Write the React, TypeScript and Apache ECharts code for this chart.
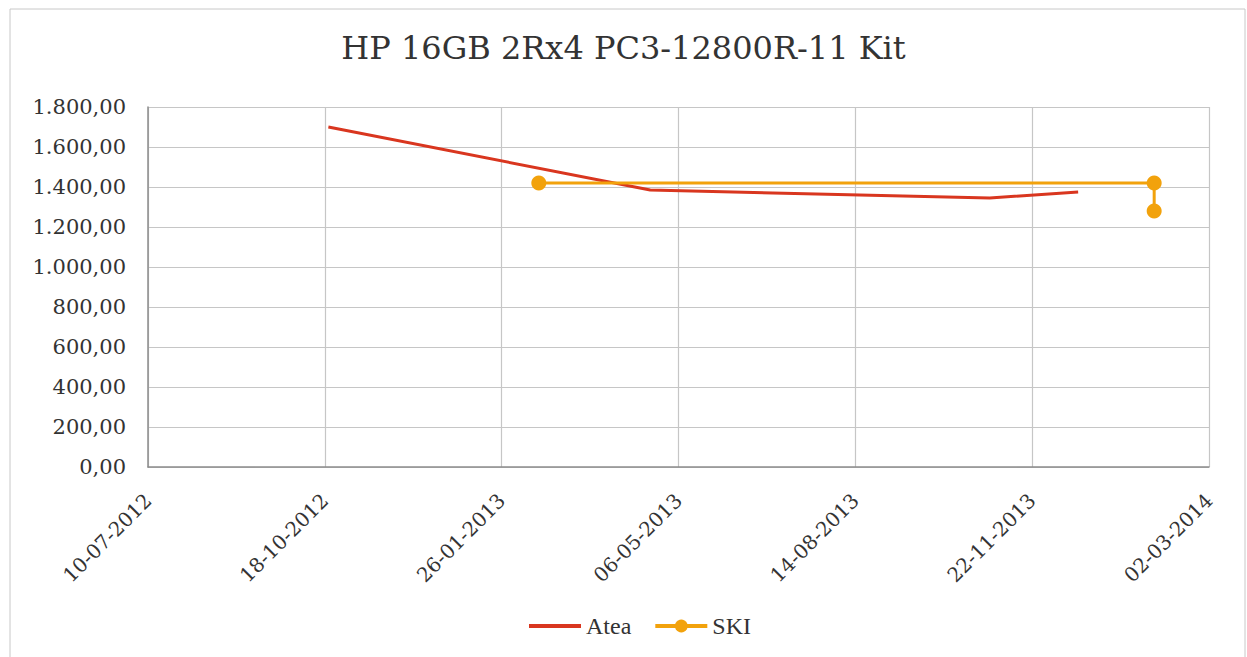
import React, { useEffect, useRef } from "react";
import * as echarts from "echarts";

const titleText = "HP 16GB 2Rx4 PC3-12800R-11 Kit";
const axisStart = "2012-07-10";
const axisDays = 600;
const tickDays = 100;
const yMax = 1800;
const yStep = 200;

const ateaDates = ["2012-10-20", "2013-04-20", "2013-10-29", "2013-12-18"];
const ateaValues = [1700, 1385, 1345, 1375];

const skiDates = ["2013-02-16", "2014-01-30", "2014-01-30"];
const skiValues = [1420, 1420, 1280];

const DAY = 86400000;
const parse = (s: string) => {
  const [y, m, d] = s.split("-").map(Number);
  return Date.UTC(y, m - 1, d);
};
const startMs = parse(axisStart);
const toDay = (s: string) => Math.round((parse(s) - startMs) / DAY);
const pad = (n: number) => (n < 10 ? "0" + n : "" + n);
const fmtDay = (v: number) => {
  const d = new Date(startMs + v * DAY);
  return `${pad(d.getUTCDate())}-${pad(d.getUTCMonth() + 1)}-${d.getUTCFullYear()}`;
};
const fmtNum = (v: number) => {
  const [i, f] = v.toFixed(2).split(".");
  return i.replace(/\B(?=(\d{3})+(?!\d))/g, ".") + "," + f;
};

export default function App() {
  const ref = useRef<HTMLDivElement>(null);
  useEffect(() => {
    if (!ref.current) return;
    const chart = echarts.init(ref.current, null, { renderer: "svg" });
    const serif = "DejaVu Serif";
    chart.setOption({
      animation: false,
      backgroundColor: "#ffffff",
      title: {
        text: titleText,
        left: "center",
        top: 32,
        padding: 0,
        textStyle: { fontFamily: serif, fontSize: 32, fontWeight: "normal", color: "#333" },
      },
      graphic: [
        {
          type: "rect",
          shape: { x: 10, y: 9, width: 1235, height: 660 },
          style: { fill: "none", stroke: "#c8c8c8", lineWidth: 1 },
        },
      ],
      legend: {
        bottom: 14,
        left: 522,
        itemWidth: 52,
        itemHeight: 16,
        itemGap: 22,
        textStyle: { fontFamily: "Liberation Serif", fontSize: 24, color: "#333" },
        data: [
          { name: "Atea", itemStyle: { opacity: 0 }, lineStyle: { width: 4, color: "#d9361f" } },
          { name: "SKI", lineStyle: { width: 4, color: "#f2a20c" } },
        ],
      },
      grid: {
        left: 148,
        right: 38,
        top: 107,
        bottom: 190,
        containLabel: false,
        outerBoundsMode: "none",
      },
      xAxis: {
        type: "value",
        min: 0,
        max: axisDays,
        interval: tickDays,
        axisLine: { show: true, lineStyle: { color: "#8c8c8c", width: 1.5 } },
        axisTick: { show: false },
        splitLine: { show: true, lineStyle: { color: "#c6c6c6", width: 1.2 } },
        axisLabel: {
          rotate: 45,
          margin: 30,
          fontFamily: serif,
          fontSize: 20,
          color: "#333",
          formatter: (v: number) => fmtDay(v),
        },
      },
      yAxis: {
        type: "value",
        min: 0,
        max: yMax,
        interval: yStep,
        axisLine: { show: true, lineStyle: { color: "#8c8c8c", width: 1.5 } },
        axisTick: { show: false },
        splitLine: { show: true, lineStyle: { color: "#c6c6c6", width: 1.2 } },
        axisLabel: {
          margin: 22,
          fontFamily: serif,
          fontSize: 21,
          color: "#333",
          formatter: (v: number) => fmtNum(v),
        },
      },
      series: [
        {
          name: "Atea",
          type: "line",
          showSymbol: false,
          symbol: "none",
          color: "#d9361f",
          lineStyle: { width: 3, color: "#d9361f" },
          data: ateaDates.map((d, i) => [toDay(d), ateaValues[i]]),
        },
        {
          name: "SKI",
          type: "line",
          symbol: "circle",
          symbolSize: 15,
          color: "#f2a20c",
          lineStyle: { width: 3, color: "#f2a20c" },
          itemStyle: { color: "#f2a20c" },
          data: skiDates.map((d, i) => [toDay(d), skiValues[i]]),
        },
      ],
    });
    return () => chart.dispose();
  }, []);
  return (
    <div
      ref={ref}
      style={{ position: "fixed", left: 0, top: 0, width: 1247, height: 657 }}
    />
  );
}
